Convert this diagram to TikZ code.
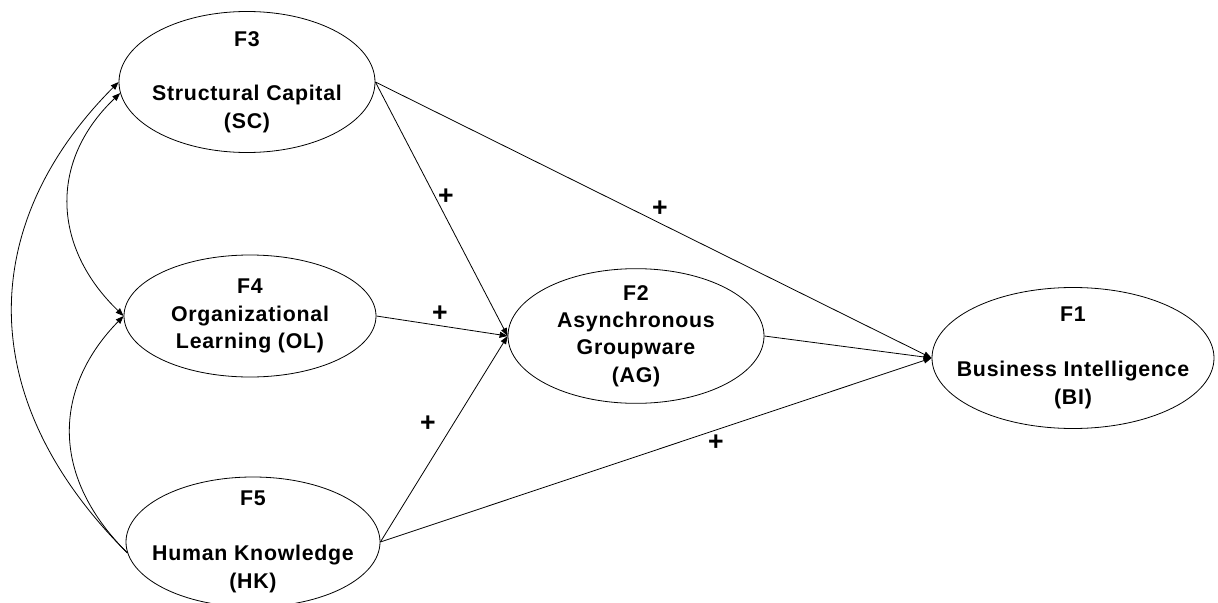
\documentclass[tikz,border=0pt]{standalone}
\usepackage{fontspec}
\setmainfont{Liberation Sans}[LetterSpace=3.5]
\usetikzlibrary{arrows.meta,shapes.geometric}
\tikzset{
  factor/.style={draw, ellipse, line width=0.6pt, inner sep=0pt},
  ftext/.style={align=center, font=\bfseries\fontsize{16}{20.6}\selectfont},
  link/.style={-{Triangle[length=6pt,width=4.5pt]}, line width=0.6pt},
  sign/.style={font=\bfseries\fontsize{20}{20}\selectfont}
}
\begin{document}
\begin{tikzpicture}[x=0.75pt, y=-0.75pt]
\useasboundingbox (0,0) rectangle (1218,603);
\clip (0,0) rectangle (1218,603);
% factors
\node[factor, minimum width=192pt, minimum height=105.75pt,
  label={[ftext]center:F3\\[20.6pt]Structural Capital\\(SC)}] (f3) at (247,82) {};
\node[factor, minimum width=189pt, minimum height=91.5pt,
  label={[ftext]center:F4\\Organizational\\Learning (OL)}] (f4) at (250,316) {};
\node[factor, minimum width=190.5pt, minimum height=97.5pt,
  label={[ftext]center:F5\\[20.6pt]Human Knowledge\\(HK)}] (f5) at (253,542) {};
\node[factor, minimum width=192pt, minimum height=101pt,
  label={[ftext]center:F2\\Asynchronous\\Groupware\\(AG)}] (f2) at (636,336) {};
\node[factor, minimum width=211.5pt, minimum height=105.75pt,
  label={[ftext]center:F1\\[20.6pt]Business Intelligence\\(BI)}] (f1) at (1073,358) {};
% correlations on the left
\draw[link] (f5.185) .. controls (-31,395) and (-19,220) .. (f3.west);
\draw[link] (f5.185) .. controls (46,472) and (57,384) .. (f4.west);
\draw[link, {Triangle[length=6pt,width=4.5pt]}-{Triangle[length=6pt,width=4.5pt]}]
  (f4.west) .. controls (53,248) and (48,162) .. (f3.185);
% paths
\draw[link] (f3.east) -- (f2.west);
\draw[link] (f3.east) -- (f1.west);
\draw[link] (f4.east) -- (f2.west);
\draw[link] (f5.east) -- (f2.west);
\draw[link] (f5.east) -- (f1.west);
\draw[link] (f2.east) -- (f1.west);
% signs
\node[sign] (s1) at (446,197) {+};
\node[sign] (s2) at (660,209) {+};
\node[sign] (s3) at (440,314) {+};
\node[sign] (s4) at (428,424) {+};
\node[sign] (s5) at (716,443) {+};
\end{tikzpicture}
\end{document}
